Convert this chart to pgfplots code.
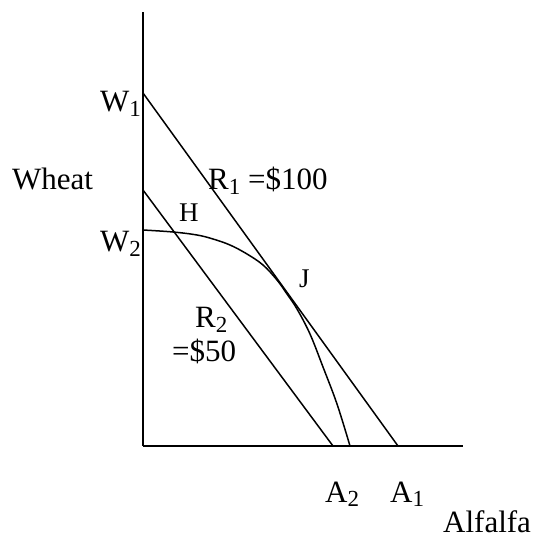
\documentclass[border=0pt]{standalone}
\usepackage{fontspec}
\setmainfont{Liberation Serif}
\usepackage{pgfplots}
\pgfplotsset{compat=1.18}
\newcommand\sub[1]{\raisebox{-0.3ex}{\fontsize{23}{23}\selectfont #1}}
\begin{document}
\begin{tikzpicture}
\begin{axis}[
  scale only axis, width=320pt, height=434pt,
  xmin=0, xmax=320, ymin=0, ymax=434,
  axis lines=left, axis line style={-, line width=1.6pt},
  xtick=\empty, ytick=\empty, clip=false,
]
\path (axis cs:-143,-92) rectangle (axis cs:394,446);
% R1
\addplot[black, line width=1.5pt] coordinates {(0,353) (255,0)};
% R2
\addplot[black, line width=1.5pt] coordinates {(0,256) (190,0)};
% production possibilities curve
\addplot[black, line width=1.5pt, smooth, tension=0.6] coordinates {
(0,216) (30,214) (54,211) (70,207) (87,201) (104,192) (120,181) (134,166) (144,152) (154,137) (167,112) (180,79) (194,42) (207,0)};
\begin{scope}[every node/.style={font=\fontsize{31}{36}\selectfont, inner sep=0pt}]
\node[anchor=base west] at (axis cs:-43,334) {W\sub{1}};
\node[anchor=base west] at (axis cs:-131,256) {Wheat};
\node[anchor=base west] at (axis cs:-43,194) {W\sub{2}};
\node[anchor=base west] at (axis cs:65,256) {R\sub{1} =\$100};
\node[anchor=base west] at (axis cs:52,118) {R\sub{2}};
\node[anchor=base west] at (axis cs:29,84) {=\$50};
\node[anchor=base west] at (axis cs:182,-56) {A\sub{2}};
\node[anchor=base west] at (axis cs:247,-56) {A\sub{1}};
\node[anchor=base west] at (axis cs:300,-86) {Alfalfa};
\node[anchor=base west, font=\fontsize{27}{30}\selectfont] at (axis cs:36,224) {H};
\node[anchor=base west, font=\fontsize{27}{30}\selectfont] at (axis cs:156,158) {J};
\end{scope}
\end{axis}
\end{tikzpicture}
\end{document}
